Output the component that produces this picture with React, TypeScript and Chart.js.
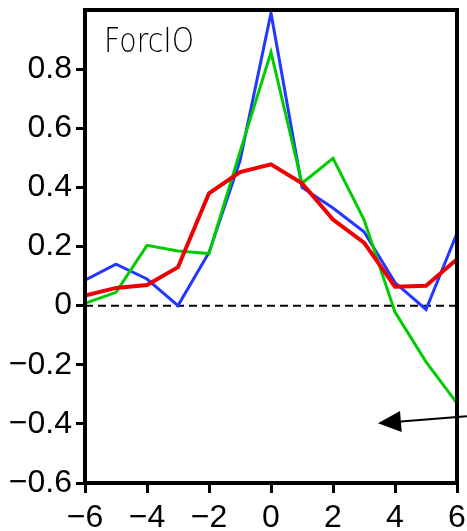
import React, { useEffect, useRef } from "react";
import { Chart, registerables } from "chart.js";

Chart.register(...registerables);

const xValues = [-6, -5, -4, -3, -2, -1, 0, 1, 2, 3, 4, 5, 6];
const blueSeries = [0.086, 0.14, 0.09, 0.0, 0.18, 0.49, 0.99, 0.4, 0.33, 0.25, 0.078, -0.013, 0.245];
const greenSeries = [0.008, 0.045, 0.204, 0.185, 0.176, 0.52, 0.857, 0.414, 0.498, 0.291, -0.022, -0.19, -0.33];
const redSeries = [0.034, 0.06, 0.07, 0.13, 0.38, 0.452, 0.478, 0.414, 0.291, 0.213, 0.064, 0.067, 0.157];
const yTickValues = [-0.6, -0.4, -0.2, 0, 0.2, 0.4, 0.6, 0.8];
const xTickValues = [-6, -4, -2, 0, 2, 4, 6];
const panelLabel = "ForcIO";
const arrowTail = { x: 6.32, y: -0.374 };
const arrowTip = { x: 3.45, y: -0.398 };

const fmt = (v: number) => {
  const r = Math.round(v * 10) / 10;
  const s = Math.abs(r).toString();
  return r < 0 ? "\u2212" + s : s;
};

const framePlugin = {
  id: "framePlugin",
  beforeDatasetsDraw(chart: any) {
    const { ctx, chartArea, scales } = chart;
    const y0 = scales.y.getPixelForValue(0);
    ctx.save();
    ctx.strokeStyle = "#000";
    ctx.lineWidth = 2;
    ctx.setLineDash([8, 5]);
    ctx.beginPath();
    ctx.moveTo(chartArea.left, y0);
    ctx.lineTo(chartArea.right, y0);
    ctx.stroke();
    ctx.restore();
  },
  afterDatasetsDraw(chart: any) {
    const { ctx, chartArea } = chart;
    ctx.save();
    ctx.strokeStyle = "#000";
    ctx.lineWidth = 4;
    ctx.strokeRect(chartArea.left, chartArea.top, chartArea.right - chartArea.left, chartArea.bottom - chartArea.top);
    ctx.restore();
  },
  afterDraw(chart: any) {
    const { ctx, chartArea, scales } = chart;
    ctx.save();
    // panel label
    ctx.fillStyle = "#000";
    ctx.font = "200 33px 'DejaVu Sans'";
    ctx.textBaseline = "alphabetic";
    ctx.translate(chartArea.left + 19, chartArea.top + 42);
    ctx.scale(0.86, 1);
    ctx.fillText(panelLabel, 0, 0);
    ctx.restore();

    // arrow
    const tx = scales.x.getPixelForValue(arrowTail.x);
    const ty = scales.y.getPixelForValue(arrowTail.y);
    const hx = scales.x.getPixelForValue(arrowTip.x);
    const hy = scales.y.getPixelForValue(arrowTip.y);
    const ang = Math.atan2(hy - ty, hx - tx);
    const len = 23;
    const half = 10.5;
    const bx = hx - len * Math.cos(ang);
    const by = hy - len * Math.sin(ang);
    ctx.save();
    ctx.strokeStyle = "#000";
    ctx.fillStyle = "#000";
    ctx.lineWidth = 2;
    ctx.beginPath();
    ctx.moveTo(tx, ty);
    ctx.lineTo(bx, by);
    ctx.stroke();
    ctx.beginPath();
    ctx.moveTo(hx, hy);
    ctx.lineTo(bx - half * Math.sin(ang), by + half * Math.cos(ang));
    ctx.lineTo(bx + half * Math.sin(ang), by - half * Math.cos(ang));
    ctx.closePath();
    ctx.fill();
    ctx.restore();
  },
};

export default function App() {
  const ref = useRef<HTMLCanvasElement | null>(null);
  useEffect(() => {
    if (!ref.current) return;
    const mk = (vals: number[]) => xValues.map((x, i) => ({ x, y: vals[i] }));
    const chart = new Chart(ref.current, {
      type: "line",
      data: {
        datasets: [
          { label: "red", data: mk(redSeries), borderColor: "#ee0000", borderWidth: 4, pointRadius: 0, tension: 0, order: 0 },
          { label: "green", data: mk(greenSeries), borderColor: "#00cc00", borderWidth: 3, pointRadius: 0, tension: 0, order: 1 },
          { label: "blue", data: mk(blueSeries), borderColor: "#2238ff", borderWidth: 3, pointRadius: 0, tension: 0, order: 2 },
        ],
      },
      options: {
        animation: false,
        responsive: false,
        devicePixelRatio: 1,
        layout: { padding: { top: 10, right: 10, left: 0, bottom: 0 } },
        plugins: { legend: { display: false }, tooltip: { enabled: false } },
        scales: {
          x: {
            type: "linear",
            min: -6,
            max: 6,
            afterBuildTicks: (s: any) => {
              s.ticks = xTickValues.map((v) => ({ value: v }));
            },
            afterFit: (s: any) => {
              s.height = 48;
              s.paddingLeft = 0;
              s.paddingRight = 0;
            },
            border: { display: false },
            grid: { drawOnChartArea: false, drawTicks: true, tickLength: 10, lineWidth: 3, color: "#000" },
            ticks: {
              padding: 6,
              color: "#000",
              font: { family: "'Liberation Sans'", size: 32 },
              maxRotation: 0,
              callback: (v: any) => fmt(Number(v)),
            },
          },
          y: {
            type: "linear",
            min: -0.6,
            max: 1.0,
            afterBuildTicks: (s: any) => {
              s.ticks = yTickValues.map((v) => ({ value: v }));
            },
            afterFit: (s: any) => {
              s.width = 85;
              s.paddingTop = 0;
              s.paddingBottom = 0;
            },
            border: { display: false },
            grid: { drawOnChartArea: false, drawTicks: true, tickLength: 9, lineWidth: 3, color: "#000" },
            ticks: {
              padding: 4,
              color: "#000",
              font: { family: "'Liberation Sans'", size: 32 },
              callback: (v: any) => fmt(Number(v)),
            },
          },
        },
      },
      plugins: [framePlugin],
    } as any);
    return () => chart.destroy();
  }, []);
  return (
    <div style={{ position: "fixed", left: 0, top: 0, width: 467, height: 531, background: "#fff" }}>
      <canvas ref={ref} width={467} height={531} style={{ display: "block" }} />
    </div>
  );
}
